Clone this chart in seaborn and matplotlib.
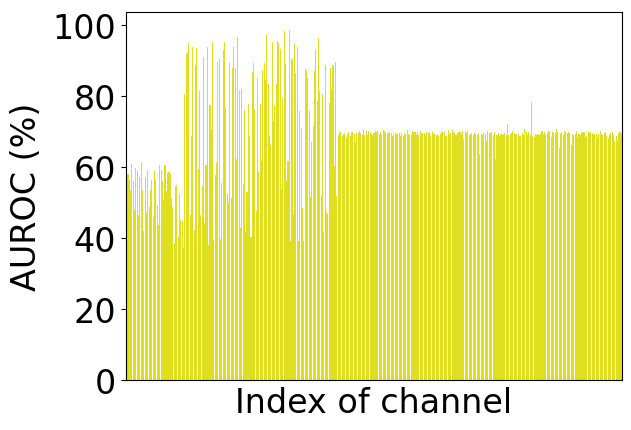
import matplotlib
matplotlib.use("Agg")
import matplotlib.pyplot as plt
import seaborn as sns
import pandas as pd

# AUROC per channel, in three blocks of channels
block1_auroc = [
    45.6, 58.0, 56.3, 53.5, 60.8, 56.0, 47.9, 59.7, 58.8, 46.5, 57.1, 61.1, 53.5, 42.0,
    57.1, 47.0, 59.1, 48.7, 53.5, 56.3, 45.9, 58.8, 56.3, 49.3, 43.7, 60.5, 59.1, 56.0,
    50.7, 60.5, 53.2, 58.3, 58.6, 58.0, 51.3, 48.7, 38.6, 54.6, 54.9, 40.3, 52.4, 45.1,
    44.8, 37.0,
]
block2_auroc = [
    80.4, 91.6, 92.2, 94.7, 46.5, 68.6, 93.8, 42.3, 88.5, 93.3, 59.4, 81.2, 46.5, 54.6,
    91.0, 44.3, 60.5, 93.6, 38.1, 77.3, 70.3, 95.0, 39.5, 57.7, 61.1, 89.6, 90.2, 39.8,
    55.5, 92.7, 95.0, 76.5, 52.4, 49.9, 89.1, 51.3, 87.7, 93.6, 87.9, 62.2, 96.6, 81.5,
    42.9, 81.8, 55.2, 75.9, 41.7, 52.9, 77.6, 68.6, 40.3, 86.6, 89.1, 76.2, 47.6,
    84.9, 58.5, 77.6, 61.6,
    87.1, 89.1, 84.3, 97.2, 83.4, 68.6, 66.2, 95.2, 72.8, 77.3, 83.2, 95.5, 94.7, 93.0,
    53.8, 79.0, 98.3, 88.8, 56.0, 61.6, 98.6, 39.2, 90.4, 46.8, 94.7, 86.3, 93.6, 39.2,
    75.7, 70.9, 48.5, 39.2, 87.4, 86.8, 85.1, 75.7, 51.5, 67.0, 71.5, 86.8,
    93.0, 78.4, 96.3, 81.2, 52.1, 80.6, 41.7, 88.5, 47.4, 46.8, 77.9, 87.9,
    81.8, 88.5, 60.2, 89.6, 51.8,
]
block3_auroc = [
    68.9, 69.7, 69.7, 68.6, 69.2, 69.5, 68.1, 69.2, 69.7, 68.6, 69.7, 69.7, 69.2, 66.9,
    69.5, 69.5, 70.0, 69.5, 68.9, 70.3, 68.9, 70.0, 68.9, 70.0, 69.7, 69.2, 68.9, 69.5,
    70.0, 69.7, 70.0, 69.2, 69.7, 68.9, 70.3, 70.0, 69.5, 69.5, 69.5, 69.7, 69.5, 68.6,
    68.9, 69.5, 69.2, 69.2, 69.5, 68.6, 69.5, 68.6, 69.5, 69.2, 70.3, 69.2, 68.9, 68.9,
    70.0, 69.7, 69.7, 68.9, 69.7, 68.9, 70.0, 69.5, 69.5, 69.5, 68.9, 69.7, 69.5, 69.7,
    68.6, 69.7, 69.2, 69.5, 68.9, 68.9, 68.6, 69.2, 70.0, 69.7, 70.0, 68.6, 68.6, 70.3,
    69.2, 69.5, 70.3, 69.7, 69.5, 68.9, 69.5, 69.7, 69.7, 69.2, 70.0, 67.8, 70.0, 69.5,
    70.0, 68.9, 69.2, 69.5, 68.9, 69.5, 69.2, 68.9, 69.5,
    63.6, 69.2, 68.9, 69.5, 69.2, 67.2, 70.0, 69.5, 69.5, 69.7, 68.9, 69.7, 62.2, 68.9,
    69.5, 68.6, 69.2, 68.9, 69.2, 69.5, 68.9, 71.9, 68.9, 69.2, 69.5, 70.0, 69.5, 69.2,
    69.2, 69.2, 68.6, 68.6, 69.5, 68.9, 70.6,
    69.7, 68.9, 69.7, 68.9, 78.2, 68.6, 68.3, 69.2, 68.9, 69.2, 68.9, 69.2, 70.0, 68.9,
    69.7, 68.9, 69.5, 70.0, 70.0, 68.3, 69.7, 69.7, 69.5, 70.6, 69.7, 65.3, 69.2, 69.7,
    68.9, 70.0, 69.7, 69.5, 69.7, 69.5, 66.1, 68.9, 68.9, 69.2, 70.0, 68.1, 69.2, 68.9,
    69.5, 69.7, 69.7, 68.3, 68.6, 69.7, 69.5, 69.7, 69.5, 69.2, 69.2, 69.2, 68.1, 69.2,
    70.0, 69.2, 68.9, 69.5, 69.7, 68.6, 68.1, 68.9, 69.5, 69.7, 68.9, 67.2, 68.6, 67.2,
    69.5, 69.7, 69.2,
]
y_ticks = [0, 20, 40, 60, 80, 100]

auroc = block1_auroc + block2_auroc + block3_auroc
df = pd.DataFrame({"channel": range(len(auroc)), "auroc": auroc})

fig = plt.figure(figsize=(6.31, 4.31), dpi=100)
ax = fig.add_axes([126 / 631, 1 - 381 / 431, 496 / 631, 368 / 431])

sns.barplot(data=df, x="channel", y="auroc", color="yellow", errorbar=None, ax=ax)

ax.set_xticks([])                              # no channel tick labels
ax.set_yticks(y_ticks)
ax.set_xlabel("Index of channel", fontsize=24)
ax.set_ylabel("AUROC (%)", fontsize=24, labelpad=7)
ax.tick_params(axis="y", labelsize=24)
ax.set_ylim(0, max(auroc) * 1.05)

fig.savefig("out.png", dpi=100)
